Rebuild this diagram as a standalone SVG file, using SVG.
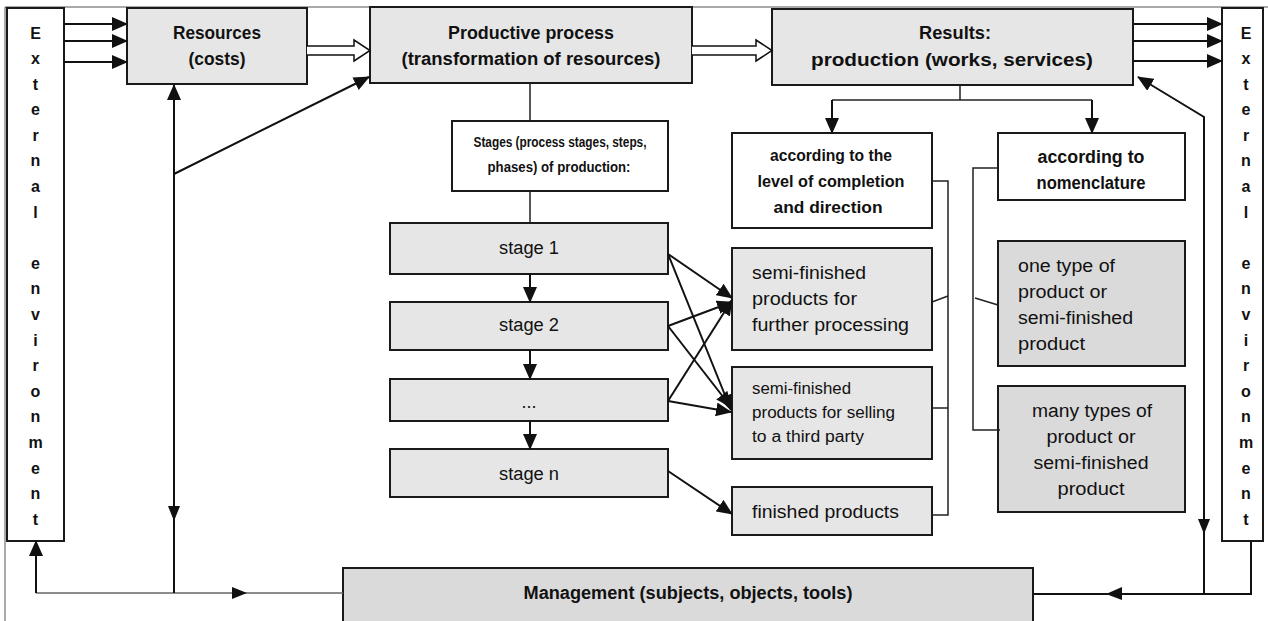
<svg xmlns="http://www.w3.org/2000/svg" width="1268" height="621" viewBox="0 0 1268 621">
<style>
.box{stroke:#1a1a1a;stroke-width:2}
.w{fill:#ffffff}
.g{fill:#e6e6e6}
.d{fill:#dadada}
text{font-family:"Liberation Sans",Arial,sans-serif;fill:#111}
.b{font-weight:bold}
.c{text-anchor:middle}
.ln{stroke:#111;stroke-width:2;fill:none}
.tn{stroke:#222;stroke-width:1.5;fill:none}
.gr{stroke:#666;stroke-width:1.5;fill:none}
.hair{stroke:#555;stroke-width:1;fill:none}
.ah{fill:#111;stroke:none}
</style>
<defs>
<marker id="arr" markerUnits="userSpaceOnUse" markerWidth="16" markerHeight="14" refX="15" refY="7" orient="auto">
<path d="M0,0 L16,7 L0,14 z" fill="#111"/>
</marker>
</defs>
<path class="hair" d="M5,621 V7 H1268"/>
<g id="ext-left">
<rect class="box w" x="7" y="8" width="57" height="533"/>
<g class="b c" font-size="16">
<text x="35.5" y="38.5">E</text><text x="35.5" y="64">x</text><text x="35.5" y="90">t</text><text x="35.5" y="115">e</text><text x="35.5" y="141">r</text><text x="35.5" y="166">n</text><text x="35.5" y="192">a</text><text x="35.5" y="218">l</text>
<text x="35.5" y="269">e</text><text x="35.5" y="294">n</text><text x="35.5" y="320">v</text><text x="35.5" y="346">i</text><text x="35.5" y="371">r</text><text x="35.5" y="397">o</text><text x="35.5" y="422">n</text><text x="35.5" y="448">m</text><text x="35.5" y="474">e</text><text x="35.5" y="499">n</text><text x="35.5" y="525">t</text>
</g>
</g>
<g id="ext-right">
<rect class="box w" x="1222" y="8" width="41" height="533"/>
<g class="b c" font-size="16">
<text x="1246" y="38.5">E</text><text x="1246" y="64">x</text><text x="1246" y="90">t</text><text x="1246" y="115">e</text><text x="1246" y="141">r</text><text x="1246" y="166">n</text><text x="1246" y="192">a</text><text x="1246" y="218">l</text>
<text x="1246" y="269">e</text><text x="1246" y="294">n</text><text x="1246" y="320">v</text><text x="1246" y="346">i</text><text x="1246" y="371">r</text><text x="1246" y="397">o</text><text x="1246" y="422">n</text><text x="1246" y="448">m</text><text x="1246" y="474">e</text><text x="1246" y="499">n</text><text x="1246" y="525">t</text>
</g>
</g>
<g id="resources">
<rect class="box g" x="127" y="8" width="180" height="76"/>
<text class="b c" x="217" y="39" font-size="18" textLength="88" lengthAdjust="spacingAndGlyphs">Resources</text>
<text class="b c" x="217" y="65" font-size="18" textLength="57" lengthAdjust="spacingAndGlyphs">(costs)</text>
</g>
<g id="productive">
<rect class="box g" x="370" y="7" width="322" height="76"/>
<text class="b c" x="531" y="39" font-size="18" textLength="166" lengthAdjust="spacingAndGlyphs">Productive process</text>
<text class="b c" x="531" y="65" font-size="18" textLength="259" lengthAdjust="spacingAndGlyphs">(transformation of resources)</text>
</g>
<g id="results">
<rect class="box g" x="772" y="9" width="361" height="76"/>
<text class="b c" x="955" y="39" font-size="18" textLength="72" lengthAdjust="spacingAndGlyphs">Results:</text>
<text class="b c" x="952" y="66" font-size="18" textLength="282" lengthAdjust="spacingAndGlyphs">production (works, services)</text>
</g>
<g id="stages">
<rect class="box w" x="452" y="121" width="216" height="70"/>
<text class="b c" x="560" y="147" font-size="14" textLength="173" lengthAdjust="spacingAndGlyphs">Stages (process stages, steps,</text>
<text class="b c" x="559" y="172" font-size="14" textLength="143" lengthAdjust="spacingAndGlyphs">phases) of production:</text>
</g>
<g id="stage1">
<rect class="box g" x="390" y="223" width="278" height="51"/>
<text class="c" x="529" y="254" font-size="18" textLength="60" lengthAdjust="spacingAndGlyphs">stage 1</text>
</g>
<g id="stage2">
<rect class="box g" x="390" y="302" width="278" height="48"/>
<text class="c" x="529" y="331" font-size="18" textLength="60" lengthAdjust="spacingAndGlyphs">stage 2</text>
</g>
<g id="stage-dots">
<rect class="box g" x="390" y="379" width="278" height="42"/>
<text class="c" x="529" y="408" font-size="18">...</text>
</g>
<g id="stagen">
<rect class="box g" x="390" y="449" width="278" height="48"/>
<text class="c" x="529" y="480" font-size="18" textLength="60" lengthAdjust="spacingAndGlyphs">stage n</text>
</g>
<g id="level">
<rect class="box w" x="732" y="133" width="200" height="95"/>
<text class="b c" x="831" y="161" font-size="16.5" textLength="122" lengthAdjust="spacingAndGlyphs">according to the</text>
<text class="b c" x="831" y="187" font-size="16.5" textLength="147" lengthAdjust="spacingAndGlyphs">level of completion</text>
<text class="b c" x="828" y="213" font-size="16.5" textLength="109" lengthAdjust="spacingAndGlyphs">and direction</text>
</g>
<g id="nomenclature">
<rect class="box w" x="998" y="133" width="187" height="67"/>
<text class="b c" x="1091" y="163" font-size="18" textLength="107" lengthAdjust="spacingAndGlyphs">according to</text>
<text class="b c" x="1091" y="189" font-size="18" textLength="109" lengthAdjust="spacingAndGlyphs">nomenclature</text>
</g>
<g id="semi-further">
<rect class="box g" x="732" y="248" width="200" height="102"/>
<text x="752" y="279" font-size="18" textLength="114" lengthAdjust="spacingAndGlyphs">semi-finished</text>
<text x="752" y="305" font-size="18" textLength="105" lengthAdjust="spacingAndGlyphs">products for</text>
<text x="752" y="331" font-size="18" textLength="157" lengthAdjust="spacingAndGlyphs">further processing</text>
</g>
<g id="semi-selling">
<rect class="box g" x="732" y="367" width="200" height="92"/>
<text x="752" y="394" font-size="16" textLength="99" lengthAdjust="spacingAndGlyphs">semi-finished</text>
<text x="752" y="418" font-size="16" textLength="143" lengthAdjust="spacingAndGlyphs">products for selling</text>
<text x="752" y="442" font-size="16" textLength="112" lengthAdjust="spacingAndGlyphs">to a third party</text>
</g>
<g id="finished">
<rect class="box g" x="732" y="487" width="200" height="48"/>
<text x="752" y="518" font-size="18" textLength="147" lengthAdjust="spacingAndGlyphs">finished products</text>
</g>
<g id="one-type">
<rect class="box d" x="998" y="241" width="187" height="125"/>
<text x="1018" y="272" font-size="18" textLength="97" lengthAdjust="spacingAndGlyphs">one type of</text>
<text x="1018" y="298" font-size="18" textLength="89" lengthAdjust="spacingAndGlyphs">product or</text>
<text x="1018" y="324" font-size="18" textLength="115" lengthAdjust="spacingAndGlyphs">semi-finished</text>
<text x="1018" y="350" font-size="18" textLength="67" lengthAdjust="spacingAndGlyphs">product</text>
</g>
<g id="many-types">
<rect class="box d" x="998" y="386" width="187" height="126"/>
<text class="c" x="1092" y="417" font-size="18" textLength="120" lengthAdjust="spacingAndGlyphs">many types of</text>
<text class="c" x="1091" y="443" font-size="18" textLength="89" lengthAdjust="spacingAndGlyphs">product or</text>
<text class="c" x="1091" y="469" font-size="18" textLength="115" lengthAdjust="spacingAndGlyphs">semi-finished</text>
<text class="c" x="1091" y="495" font-size="18" textLength="67" lengthAdjust="spacingAndGlyphs">product</text>
</g>
<g id="management">
<rect class="box d" x="343" y="568" width="690" height="60"/>
<text class="b c" x="688" y="599" font-size="18" textLength="329" lengthAdjust="spacingAndGlyphs">Management (subjects, objects, tools)</text>
</g>
<g id="connectors">
<line class="ln" x1="64" y1="24" x2="127" y2="24" marker-end="url(#arr)"/>
<line class="ln" x1="64" y1="41" x2="127" y2="41" marker-end="url(#arr)"/>
<line class="ln" x1="64" y1="62" x2="127" y2="62" marker-end="url(#arr)"/>
<path d="M307,46 H354 V40 L370,50.5 L354,61 V55 H307" fill="#fff" stroke="#111" stroke-width="1.5"/>
<path d="M692,46 H756 V40 L772,50.5 L756,61 V55 H692" fill="#fff" stroke="#111" stroke-width="1.5"/>
<line class="ln" x1="1133" y1="24" x2="1222" y2="24" marker-end="url(#arr)"/>
<line class="ln" x1="1133" y1="41" x2="1222" y2="41" marker-end="url(#arr)"/>
<line class="ln" x1="1133" y1="61" x2="1222" y2="61" marker-end="url(#arr)"/>
<path class="gr" d="M343,593 H36"/>
<line class="ln" x1="174" y1="593" x2="174" y2="85" marker-end="url(#arr)"/>
<polygon class="ah" points="168,506 180,506 174,521"/>
<line class="ln" x1="174" y1="174" x2="369" y2="77" marker-end="url(#arr)"/>
<polygon class="ah" points="232,587 247,593 232,599"/>
<line class="ln" x1="36" y1="593" x2="36" y2="541" marker-end="url(#arr)"/>
<path class="tn" d="M530,83 V121 M530,191 V223"/>
<line class="ln" x1="530" y1="274" x2="530" y2="302" marker-end="url(#arr)"/>
<line class="ln" x1="530" y1="350" x2="530" y2="379" marker-end="url(#arr)"/>
<line class="ln" x1="530" y1="421" x2="530" y2="449" marker-end="url(#arr)"/>
<line class="ln" x1="668" y1="254" x2="732" y2="298" marker-end="url(#arr)"/>
<line class="ln" x1="668" y1="254" x2="731" y2="410" marker-end="url(#arr)"/>
<line class="ln" x1="668" y1="326" x2="732" y2="302" marker-end="url(#arr)"/>
<line class="ln" x1="668" y1="326" x2="731" y2="407" marker-end="url(#arr)"/>
<line class="ln" x1="668" y1="401" x2="732" y2="300" marker-end="url(#arr)"/>
<line class="ln" x1="668" y1="401" x2="731" y2="412" marker-end="url(#arr)"/>
<line class="ln" x1="668" y1="471" x2="732" y2="514" marker-end="url(#arr)"/>
<path class="tn" d="M960,85 V100 M832,100 H1092"/>
<line class="ln" x1="832" y1="100" x2="832" y2="133" marker-end="url(#arr)"/>
<line class="ln" x1="1092" y1="100" x2="1092" y2="133" marker-end="url(#arr)"/>
<path class="tn" d="M932,181 H948 V515 H932 M932,302 L948,296 M932,408 H948"/>
<path class="tn" d="M998,168 H973 V430 H1000 M975,298 L998,305"/>
<path class="ln" d="M1204,593 V117 L1138,77" marker-end="url(#arr)"/>
<polygon class="ah" points="1198,519 1210,519 1204,534"/>
<path class="ln" d="M1251,541 V594 H1034"/>
<polygon class="ah" points="1122,587 1122,600 1106,594"/>
</g>
</svg>
